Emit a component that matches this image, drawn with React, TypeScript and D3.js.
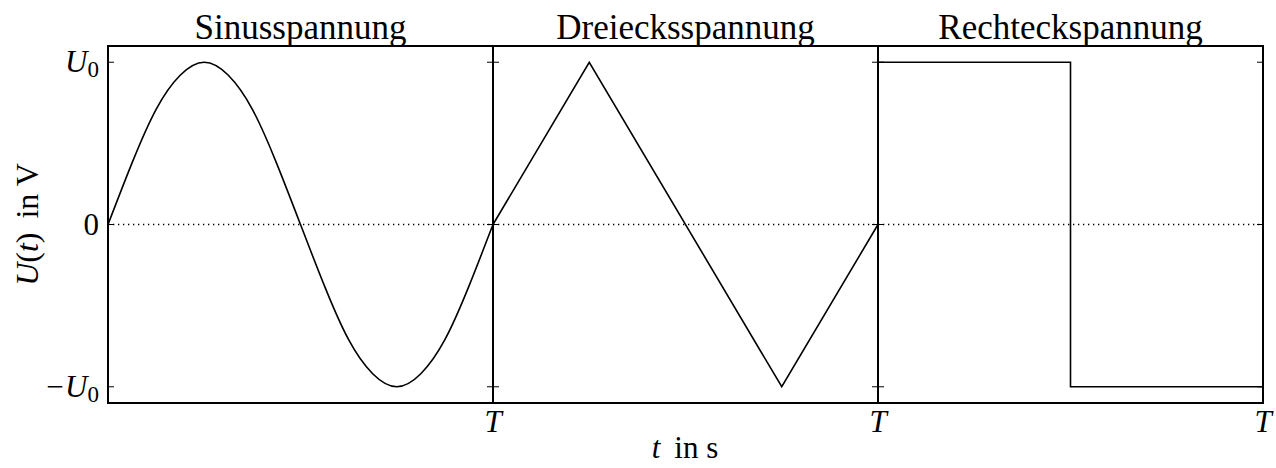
import React from "react";
import * as d3 from "d3";

// panel titles
const titles = ["Sinusspannung", "Dreiecksspannung", "Rechteckspannung"];

const sineT = [0, 0.0625, 0.125, 0.1875, 0.25, 0.3125, 0.375, 0.4375, 0.5, 0.5625, 0.625, 0.6875, 0.75, 0.8125, 0.875, 0.9375, 1];
const sineU = [0, 0.38, 0.71, 0.92, 1, 0.92, 0.71, 0.38, 0, -0.38, -0.71, -0.92, -1, -0.92, -0.71, -0.38, 0];

// triangle wave corners
const triT = [0, 0.25, 0.75, 1];
const triU = [0, 1, -1, 0];

// square wave corners
const rectT = [0, 0.5, 0.5, 1];
const rectU = [1, 1, -1, -1];

const yTicks = [-1, 0, 1];
const yTickLabels = ["−U", "0", "U"];

const W = 1276;
const H = 468;
const left = 108;
const panelW = 385;
const top = 46;
const bottom = 403;

const serif = "'Liberation Serif', 'DejaVu Serif', serif";

const Panel = ({ idx, ts, us, curved }: { idx: number; ts: number[]; us: number[]; curved?: boolean }) => {
  const x0 = left + idx * panelW;
  const x = d3.scaleLinear().domain([0, 1]).range([x0, x0 + panelW]);
  const y = d3.scaleLinear().domain([-1.1, 1.1]).range([bottom, top]);
  const pts: [number, number][] = ts.map((t, i) => [t, us[i]]);
  const line = d3
    .line<[number, number]>()
    .x((d) => x(d[0]))
    .y((d) => y(d[1]))
    .curve(curved ? d3.curveNatural : d3.curveLinear);

  return (
    <g>
      {/* dotted zero line */}
      <line x1={x(0)} x2={x(1)} y1={y(0)} y2={y(0)} stroke="#000" strokeWidth={1.3} strokeDasharray="1.3,3.7" />
      <path d={line(pts) || ""} fill="none" stroke="#000" strokeWidth={1.6} strokeLinejoin="miter" />
      {/* y ticks, inward on both sides */}
      {yTicks.map((v) => (
        <g key={v}>
          <line x1={x(0)} x2={x(0) + 6} y1={y(v)} y2={y(v)} stroke="#000" strokeWidth={1} />
          <line x1={x(1)} x2={x(1) - 6} y1={y(v)} y2={y(v)} stroke="#000" strokeWidth={1} />
        </g>
      ))}
      <rect x={x(0)} y={top} width={panelW} height={bottom - top} fill="none" stroke="#000" strokeWidth={2} />
      <text x={(x(0) + x(1)) / 2} y={39} textAnchor="middle" fontFamily={serif} fontSize={35}>
        {titles[idx]}
      </text>
      <text x={x(1)} y={432} textAnchor="middle" fontFamily={serif} fontStyle="italic" fontSize={31}>
        T
      </text>
    </g>
  );
};

export default function App() {
  const y = d3.scaleLinear().domain([-1.1, 1.1]).range([bottom, top]);
  return (
    <div style={{ position: "absolute", left: 0, top: 0 }}>
      <svg width={W} height={H} style={{ display: "block", background: "#fff" }}>
        <Panel idx={0} ts={sineT} us={sineU} curved />
        <Panel idx={1} ts={triT} us={triU} />
        <Panel idx={2} ts={rectT} us={rectU} />
        {yTicks.map((v, i) => (
          <text key={v} x={99} y={y(v) + 10} textAnchor="end" fontFamily={serif} fontSize={31}>
            {v === 0 ? (
              "0"
            ) : (
              <>
                <tspan fontStyle="italic">{yTickLabels[i]}</tspan>
                <tspan fontSize={23} dy={5}>0</tspan>
              </>
            )}
          </text>
        ))}
        <text transform={`translate(38,${y(0)}) rotate(-90)`} textAnchor="middle" fontFamily={serif} fontSize={32}>
          <tspan fontStyle="italic">U</tspan>
          <tspan>(</tspan>
          <tspan fontStyle="italic">t</tspan>
          <tspan>)</tspan>
          <tspan dx={14}>in V</tspan>
        </text>
        <text x={685} y={458} textAnchor="middle" fontFamily={serif} fontSize={31}>
          <tspan fontStyle="italic">t</tspan>
          <tspan dx={14}>in s</tspan>
        </text>
      </svg>
    </div>
  );
}
